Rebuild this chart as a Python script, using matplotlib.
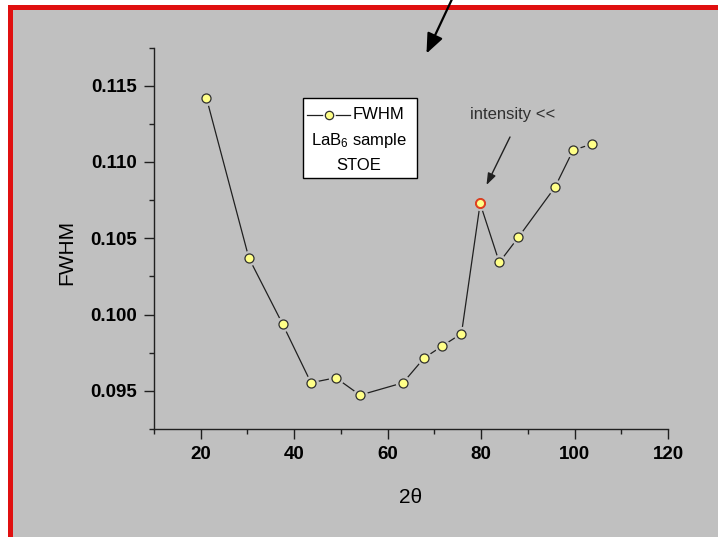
import matplotlib.pyplot as plt
from matplotlib.patches import Rectangle, FancyArrowPatch
from matplotlib.lines import Line2D
from matplotlib.ticker import MultipleLocator, FormatStrFormatter

# Data
two_theta = [21.2, 30.3, 37.5, 43.6, 48.9, 54.1, 63.3, 67.8, 71.7, 75.8,
             79.8, 83.9, 88.0, 95.8, 99.7, 103.8]
fwhm = [0.11422, 0.10371, 0.09939, 0.09553, 0.09586, 0.09472, 0.09553, 0.09715,
        0.09794, 0.09875, 0.10728, 0.10342, 0.10507, 0.10834, 0.11077, 0.11118]
weak_peak = 10  # point with low intensity, drawn with red edge

x_ticks = [20, 40, 60, 80, 100, 120]
y_ticks = [0.095, 0.100, 0.105, 0.110, 0.115]
legend_lines = ['FWHM', 'LaB$_6$ sample', 'STOE']

plt.rcParams['font.family'] = ['Liberation Sans', 'DejaVu Sans']
plt.rcParams['mathtext.fontset'] = 'custom'
plt.rcParams['mathtext.rm'] = 'Liberation Sans'
plt.rcParams['mathtext.default'] = 'rm'

W, H = 718, 537
gray = '#c0c0c0'
yellow = '#ffff88'
dark = '#202020'


def fp(x, y):
    # pixel (from top-left) -> figure fraction
    return x / W, 1 - y / H


fig = plt.figure(figsize=(W / 100, H / 100), dpi=100)
fig.patch.set_facecolor('white')

# red frame (top and left) and gray background
fig.add_artist(Rectangle(fp(8, H), 1, (H - 5) / H, transform=fig.transFigure,
                         fc='#e01010', ec='none', zorder=-10))
fig.add_artist(Rectangle(fp(13, H), 1, (H - 10) / H, transform=fig.transFigure,
                         fc=gray, ec='none', zorder=-9))

ax = fig.add_axes([154 / W, 1 - 429 / H, (668 - 154) / W, (429 - 47.5) / H])
ax.set_facecolor('none')

ax.plot(two_theta, fwhm, color=dark, lw=0.9, zorder=2)
ax.plot(two_theta, fwhm, ls='none', marker='o', ms=11, mfc=gray, mec='none', zorder=3)
ax.plot(two_theta, fwhm, ls='none', marker='o', ms=6.5, mfc=yellow, mec='#303030',
        mew=0.9, zorder=4)
ax.plot(two_theta[weak_peak], fwhm[weak_peak], ls='none', marker='o', ms=6.5,
        mfc=yellow, mec='#e04020', mew=1.4, zorder=5)

ax.set_xlim(10, 120)
ax.set_ylim(0.0925, 0.1175)
ax.set_xticks(x_ticks)
ax.set_yticks(y_ticks)
ax.xaxis.set_minor_locator(MultipleLocator(10))
ax.yaxis.set_minor_locator(MultipleLocator(0.0025))
ax.yaxis.set_major_formatter(FormatStrFormatter('%.3f'))

ax.spines['top'].set_visible(False)
ax.spines['right'].set_visible(False)
for s in ['left', 'bottom']:
    ax.spines[s].set_color(dark)
    ax.spines[s].set_linewidth(1)

ax.tick_params(which='major', direction='out', length=7, width=1, color=dark,
               labelsize=13.5, pad=5)
ax.tick_params(which='minor', direction='out', length=3.5, width=1, color=dark)
for lbl in ax.get_xticklabels() + ax.get_yticklabels():
    lbl.set_fontweight('bold')

ax.set_xlabel('2θ', fontsize=15)
ax.set_ylabel('FWHM', fontsize=15)
ax.xaxis.set_label_coords(0.5, -0.155)
ax.yaxis.set_label_coords(-0.152, 0.464)

# legend box
fig.add_artist(Rectangle(fp(303, 177.5), 114 / W, 80 / H, transform=fig.transFigure,
                         fc='white', ec='black', lw=1, zorder=5))
ly = 114.5
fig.add_artist(Line2D([307 / W, 350 / W], [fp(0, ly)[1]] * 2, transform=fig.transFigure,
                      color=dark, lw=0.9, zorder=6))
fig.add_artist(Line2D([328.5 / W], [fp(0, ly)[1]], transform=fig.transFigure, ls='none',
                      marker='o', ms=9, mfc='white', mec='none', zorder=7))
fig.add_artist(Line2D([328.5 / W], [fp(0, ly)[1]], transform=fig.transFigure, ls='none',
                      marker='o', ms=6, mfc=yellow, mec='#303030', mew=0.9, zorder=8))
fig.text(*fp(353, ly), legend_lines[0], ha='left', va='center', fontsize=12, zorder=8)
fig.text(*fp(359, 140), legend_lines[1], ha='center', va='center', fontsize=12, zorder=8)
fig.text(*fp(359, 165), legend_lines[2], ha='center', va='center', fontsize=12, zorder=8)

# annotation for the weak peak
fig.text(*fp(513, 114), 'intensity <<', ha='center', va='center', fontsize=12,
         color='#303030')
fig.add_artist(FancyArrowPatch(fp(510, 137), fp(486.5, 185), transform=fig.transFigure,
                               arrowstyle='-|>,head_length=0.5,head_width=0.18',
                               mutation_scale=14, lw=1, color=dark,
                               shrinkA=0, shrinkB=0))

# arrow coming in from the top
fig.add_artist(FancyArrowPatch(fp(453, -3), fp(426.5, 53.5), transform=fig.transFigure,
                               arrowstyle='-|>,head_length=0.6,head_width=0.25',
                               mutation_scale=20, lw=1.6, color='black',
                               shrinkA=0, shrinkB=0))

fig.savefig('out.png', dpi=100, facecolor='white')
